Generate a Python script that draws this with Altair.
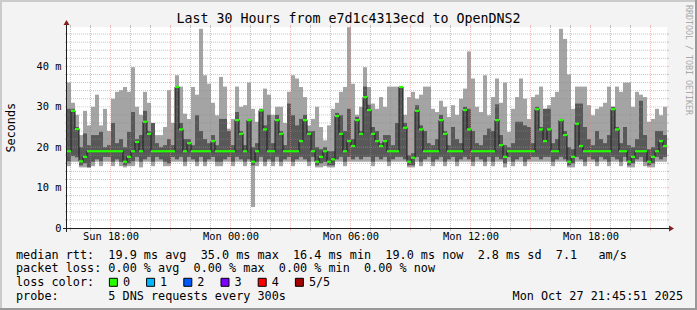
import altair as alt
import pandas as pd

NB = "\u00a0"
MONO = "DejaVu Sans Mono"

# ---- time axis (hours since Sun 00:00) ----
T_START = 15.825
T_END = 45.825
STEP = 0.2

# ---- smoke data: five sorted ping rtts per step (ms) ----
rtt_p5 = [
    36, 31, 28, 23, 29, 25.4, 30, 33, 25.4, 29.5,
    24, 32, 33.7, 34.1, 34.9, 33.7, 39.8, 30, 28, 33.7,
    31, 26, 23, 23, 25, 34.1, 26, 37.8, 35, 28.3,
    27, 34.9, 33, 49.3, 37.8, 35.7, 31, 27.9, 37.4, 35,
    24.6, 27, 35, 30, 30.4, 36, 29.5, 26.3, 29.5, 34.5,
    33, 28, 30, 30, 26, 33.7, 37.8, 37, 34.9, 32.4,
    25.4, 27, 30, 25, 21.7, 25.4, 29.5, 31, 33.7, 34.9,
    49.7, 35.7, 28, 30, 39.8, 34.9, 30.8, 29.5, 32.4, 30,
    35, 35, 35, 35, 28, 32.4, 33.7, 32, 33, 35,
    35, 29.5, 28.7, 31.5, 30, 27.5, 30.4, 28, 32, 34.5,
    43.7, 37, 30, 28.7, 37.8, 27.9, 32.4, 37, 31, 36,
    23.8, 29.5, 32.4, 37, 32, 27, 32.4, 33, 35, 29.5,
    30.4, 32.4, 33.7, 49.3, 46.8, 38, 29.5, 35, 35, 35,
    30.4, 27.9, 29.5, 30, 31, 35, 30, 35, 33.7, 36,
    36, 30, 33.7, 33, 32.4, 26.3, 27, 29.5, 27.9, 30,
]
rtt_p4 = [
    29.5, 29.5, 25, 20, 23.4, 20.5, 23, 23, 23.8, 20,
    20.5, 26, 21, 22, 20, 23.8, 28.7, 22, 23, 29,
    24, 26, 21, 20, 20.5, 22, 20.5, 35, 26, 22,
    22, 20.5, 27.9, 24, 22, 21, 23, 20.5, 27, 27,
    24, 20.5, 28.7, 24, 20.5, 27, 20, 21, 29.5, 25.4,
    28, 21, 28, 24, 20.5, 30.8, 27.9, 25.4, 27, 28,
    24, 24, 20, 19.5, 20, 19, 19, 28.5, 27.9, 24,
    29.5, 22, 27.5, 24, 35, 30.5, 25, 24, 21, 23,
    23, 20.5, 26, 35, 26, 18, 18.5, 30.4, 25.4, 24,
    21, 20.5, 22, 28, 24, 20.5, 25, 22, 21, 30,
    29.5, 24, 21, 20.5, 23, 24.6, 24, 30.6, 23, 20.5,
    20, 21, 26.3, 26.3, 25.4, 25, 21, 30, 25, 29.5,
    29.5, 21, 22, 27, 24, 20, 19.5, 30.8, 30.8, 25,
    22, 20.5, 24, 22, 21, 23, 30, 25, 21, 25,
    20.5, 20, 22, 31.5, 23, 19.5, 20, 24, 24, 23,
]
rtt_median = [
    19, 29, 24.5, 16.5, 17.6, 19, 19, 19, 19, 19,
    19, 19, 19, 19, 16.4, 17.6, 19, 21.3, 19, 26.3,
    23.3, 19, 19, 19, 19, 19, 19, 34.9, 24.4, 19,
    21, 19, 19, 19, 19, 19, 21.5, 19, 19, 19,
    19, 19, 26.7, 23.3, 19, 26.7, 16.4, 19, 29.1, 24.4,
    19, 19, 26.7, 23.3, 19, 19, 19, 19, 21.5, 26.7,
    23.3, 19, 16.4, 17.6, 19, 16.4, 17, 27.7, 23.3, 19,
    21.5, 20.3, 26.7, 23.3, 32.4, 29.2, 23.3, 21.5, 20.3, 21.5,
    19, 19, 19, 34.9, 24.8, 16.4, 17.4, 29, 24.4, 19,
    19, 19, 19, 26.7, 23.3, 19, 19, 19, 19, 29.2,
    24.4, 19, 19, 19, 19, 19, 19, 26.7, 20.5, 17.6,
    19, 19, 19, 19, 19, 19, 19, 29.4, 24.4, 21.5,
    24.4, 19, 19, 26.7, 23, 16.4, 17.6, 25.8, 20.3, 19,
    19, 19, 19, 19, 19, 19, 29.4, 24.4, 19, 19,
    16.4, 17.6, 19, 19, 19, 16.4, 17.6, 19, 21.5, 20.3,
]
rtt_p2 = [
    16.5, 17.8, 17.5, 15.5, 16, 15, 16.4, 17, 16.5, 17.6,
    17.6, 16.4, 17, 16.4, 15.5, 16, 16.5, 17.6, 16.4, 17,
    17.6, 16.4, 17.6, 17, 16.4, 16, 17.6, 17, 17.6, 16.4,
    17.6, 17, 16.4, 17.6, 16.4, 17, 17.6, 16.4, 16.4, 17,
    17.6, 16.4, 17.6, 17, 16.4, 17, 15.5, 16.4, 17.6, 16.4,
    17, 16.4, 17.6, 16.4, 17, 17.6, 16.4, 17, 17.6, 17,
    16.4, 17.6, 15.5, 16, 16.4, 15.5, 15.5, 17, 17.6, 16.4,
    17.6, 17, 17.6, 17, 17.6, 17.6, 16.4, 17.6, 17, 17.6,
    16.4, 17, 17.6, 17.6, 17, 15.5, 15.5, 17.6, 16.4, 17,
    17.6, 16.4, 17, 17.6, 16.4, 17, 17.6, 16.4, 17, 17.6,
    17, 16.4, 17.6, 17, 16.4, 17.6, 16.4, 17.6, 17, 16,
    17.6, 16.4, 17, 17.6, 16.4, 17, 17.6, 17.6, 17, 17.6,
    17.6, 16.4, 17, 17.6, 17, 15.5, 16, 17.6, 17, 16.4,
    17.6, 17, 16.4, 17.6, 17, 16.4, 17.6, 17, 16.4, 17.6,
    15.5, 16, 17, 17.6, 16.4, 15.5, 16, 17.6, 17, 17.6,
]
rtt_p1 = [
    15.3, 16.4, 16.4, 15, 15, 15, 15.3, 16.4, 15.3, 16.4,
    16.4, 15.3, 16.4, 15.3, 15, 15.3, 15.3, 16.4, 15, 16.4,
    16.4, 15.3, 16.4, 16.4, 15.3, 15.3, 16.4, 16.4, 16.4, 15.3,
    16.4, 16.4, 15.3, 16.4, 15.3, 16.4, 16.4, 15.3, 15.3, 16.4,
    16.4, 15.3, 16.4, 16.4, 15.3, 16.4, 5.2, 15.3, 16.4, 15.3,
    16.4, 15.3, 16.4, 15.3, 16.4, 16.4, 15.3, 16.4, 16.4, 16.4,
    15.3, 16.4, 15, 15, 15.3, 15, 15, 16.4, 16.4, 15.3,
    16.4, 16.4, 16.4, 16.4, 16.4, 16.4, 15.3, 16.4, 16.4, 16.4,
    15.3, 16.4, 16.4, 16.4, 16.4, 15, 15, 16.4, 15.3, 16.4,
    16.4, 15.3, 16.4, 16.4, 15.3, 16.4, 16.4, 15.3, 16.4, 16.4,
    16.4, 15.3, 16.4, 16.4, 15.3, 16.4, 15.3, 16.4, 16.4, 15,
    16.4, 15.3, 16.4, 16.4, 15.3, 16.4, 16.4, 16.4, 16.4, 16.4,
    16.4, 15.3, 16.4, 16.4, 16.4, 15, 15, 16.4, 16.4, 15.3,
    16.4, 16.4, 15.3, 16.4, 16.4, 15.3, 16.4, 16.4, 15.3, 16.4,
    15, 15, 16.4, 16.4, 15.3, 15, 15, 16.4, 16.4, 16.4,
]

# ---- texts ----
title_text = "Last 30 Hours from e7d1c4313ecd to OpenDNS2"
y_title = "Seconds"
rtt_stats = ["19.9 ms avg", "35.0 ms max", "16.4 ms min", "19.0 ms now", "2.8 ms sd", "7.1   am/s"]
loss_stats = ["0.00 % avg", "0.00 % max", "0.00 % min", "0.00 % now"]
loss_labels = ["0", "1", "2", "3", "4", "5/5"]
loss_colors = ["#26ff00", "#00b8ff", "#0059ff", "#7e00ff", "#ff0000", "#a10000"]
probe_text = "5 DNS requests every 300s"
date_text = "Mon Oct 27 21:45:51 2025"
watermark_text = "RRDTOOL / TOBI OETIKER"
y_tick_values = [0, 10, 20, 30, 40]
x_tick_values = [18, 24, 30, 36, 42]
y_minor = [v for v in range(2, 50, 2) if v % 10 != 0]
y_major = [10, 20, 30, 40]
x_minor = [h for h in range(16, 46) if h % 3 != 0]
x_major = [h for h in range(18, 46, 3)]

W, H = 600, 201
Y_MAX = 49.75

n = len(rtt_median)
t0 = [round(T_START + STEP * i, 4) for i in range(n)]
t1 = [round(T_START + STEP * (i + 1), 4) for i in range(n)]
df = pd.DataFrame({"t0": t0, "t1": t1, "p1": rtt_p1, "p2": rtt_p2,
                   "med": rtt_median, "p4": rtt_p4, "p5": rtt_p5})
df_line = pd.DataFrame({"t": t0 + [T_END], "med": rtt_median + [rtt_median[-1]]})

xs = alt.Scale(domain=[T_START, T_END], nice=False, zero=False)
ys = alt.Scale(domain=[0, Y_MAX], nice=False)

xaxis = alt.Axis(values=x_tick_values, grid=False, ticks=False, domain=False,
                 labelExpr="(datum.value < 24 ? 'Sun' : 'Mon') + '" + NB + "' + ((datum.value % 24) < 10 ? '0' : '') + (datum.value % 24) + ':00'",
                 labelFont=MONO, labelFontSize=10.35, labelColor="#000000",
                 labelPadding=3, labelOverlap=False, labelFlush=False, title=None)
yaxis = alt.Axis(values=y_tick_values, grid=False, ticks=False, domain=False,
                 labelExpr="datum.value == 0 ? '0" + NB + NB + "' : datum.value + '" + NB + "m'",
                 labelFont=MONO, labelFontSize=10.35, labelColor="#000000",
                 labelPadding=6, title=None)

X0 = alt.X("t0:Q", scale=xs, axis=xaxis)

light = alt.Chart(df).mark_rect(color="#a4a4a4").encode(
    x=X0, x2="t1:Q", y=alt.Y("p1:Q", scale=ys, axis=yaxis), y2="p5:Q")
dark = alt.Chart(df).mark_rect(color="#585858").encode(
    x=X0, x2="t1:Q", y=alt.Y("p2:Q", scale=ys, axis=yaxis), y2="p4:Q")
med_line = alt.Chart(df_line).mark_line(interpolate="step-after", color="#1a1a1a", strokeWidth=1).encode(
    x=alt.X("t:Q", scale=xs, axis=xaxis), y=alt.Y("med:Q", scale=ys, axis=yaxis))
med_green = alt.Chart(df).mark_rule(color=loss_colors[0], strokeWidth=2.2).encode(
    x=X0, x2="t1:Q", y=alt.Y("med:Q", scale=ys, axis=yaxis))


def hgrid(vals, color):
    d = pd.DataFrame({"v": vals})
    Y = alt.Y("v:Q", scale=ys, axis=yaxis)
    dashed = alt.Chart(d).mark_rule(color=color, opacity=0.5, strokeWidth=1, strokeDash=[1, 1]).encode(
        y=Y, x=alt.value(0), x2=alt.value(W))
    tl = alt.Chart(d).mark_rule(color=color, opacity=0.5, strokeWidth=1).encode(
        y=Y, x=alt.value(-2), x2=alt.value(0))
    tr = alt.Chart(d).mark_rule(color=color, opacity=0.5, strokeWidth=1).encode(
        y=Y, x=alt.value(W), x2=alt.value(W + 2))
    return [dashed, tl, tr]


def vgrid(vals, color):
    d = pd.DataFrame({"v": vals})
    X = alt.X("v:Q", scale=xs, axis=xaxis)
    dashed = alt.Chart(d).mark_rule(color=color, opacity=0.5, strokeWidth=1, strokeDash=[1, 1]).encode(
        x=X, y=alt.value(0), y2=alt.value(H))
    tb = alt.Chart(d).mark_rule(color=color, opacity=0.5, strokeWidth=1).encode(
        x=X, y=alt.value(H), y2=alt.value(H + 3))
    tt = alt.Chart(d).mark_rule(color=color, opacity=0.5, strokeWidth=1).encode(
        x=X, y=alt.value(-2), y2=alt.value(0))
    return [dashed, tb, tt]


one = alt.Data(values=[{"a": 1}])


def rule(x, x2, y, y2, color, width):
    return alt.Chart(one).mark_rule(color=color, strokeWidth=width).encode(
        x=alt.value(x), x2=alt.value(x2), y=alt.value(y), y2=alt.value(y2))


def text(s, x, y, size, align="left", angle=0, color="#000000"):
    return alt.Chart(one).mark_text(text=s.replace(" ", NB), font=MONO, fontSize=size, align=align,
                                    baseline="middle", angle=angle, color=color).encode(
        x=alt.value(x), y=alt.value(y))


def box(x, y, color):
    return alt.Chart(one).mark_rect(fill=color, stroke="#000000", strokeWidth=1).encode(
        x=alt.value(x), x2=alt.value(x + 8), y=alt.value(y), y2=alt.value(y + 8))


grid = hgrid(y_minor, "#8c8c8c") + vgrid(x_minor, "#8c8c8c") + hgrid(y_major, "#f58080") + vgrid(x_major, "#f58080")

AX = "#1e1e1e"
ARROW = "#801f1f"
axes = [
    rule(-4, W + 4, H + 0.5, H + 0.5, AX, 1),
    rule(-0.5, -0.5, H + 4, -4, AX, 1),
    alt.Chart(one).mark_point(shape="M-1,-1.2L1,0L-1,1.2Z", filled=True, size=25, color=ARROW, opacity=1).encode(
        x=alt.value(W + 4.5), y=alt.value(H + 0.5)),
    alt.Chart(one).mark_point(shape="M-1.2,1L0,-1L1.2,1Z", filled=True, size=25, color=ARROW, opacity=1).encode(
        x=alt.value(-0.5), y=alt.value(-4.5)),
]

LX = -51
L1, L2, L3, L4 = 227.7, 241.3, 255.3, 269.3
texts = [
    text(title_text, 281.5, -7.7, 13.3, align="center"),
    text(y_title, -56.2, 100.7, 11.8, align="center", angle=270),
    text(watermark_text, 621, 33, 8.3, align="center", angle=90, color="#a8a8a8"),
    text("median rtt:  " + "  ".join(rtt_stats), LX, L1, 11.8),
    text("packet loss: " + "  ".join(loss_stats), LX, L2, 11.8),
    text("loss color:", LX, L3, 11.8),
    text("probe:       " + probe_text, LX, L4, 11.8),
    text(date_text, 616, L4, 11.8, align="right"),
]
boxes = []
for k, (lab, col) in enumerate(zip(loss_labels, loss_colors)):
    bx = 42.4 + 37.2 * k
    boxes.append(box(bx, L3 - 4, col))
    boxes.append(text(lab, bx + 13.5, L3, 11.8))

frame = [
    rule(-66, -66, -27, 283, "#cbcbcb", 2),
    rule(-67, 630, -26, -26, "#cbcbcb", 2),
    rule(629, 629, -27, 283, "#999999", 2),
    rule(-67, 630, 282, 282, "#999999", 2),
]

chart = alt.layer(light, dark, *grid, med_line, med_green, *axes, *texts, *boxes, *frame).properties(
    width=W, height=H,
    padding={"left": 67, "top": 27, "right": 30, "bottom": 82},
    autosize=alt.AutoSizeParams(type="none"),
    background="#f3f3f3",
).configure_view(fill="#ffffff", stroke=None)

chart.save("out.html", embed_options={"renderer": "svg", "actions": False})
